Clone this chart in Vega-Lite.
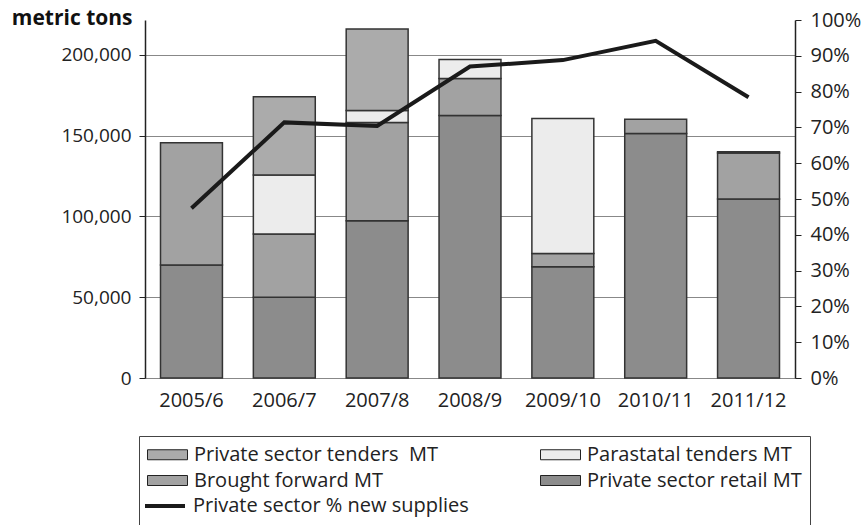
{
  "$schema": "https://vega.github.io/schema/vega-lite/v6.json",
  "autosize": {"type": "none"},
  "width": 650,
  "height": 358,
  "padding": {"left": 145, "top": 20, "right": 72, "bottom": 147},
  "background": "white",
  "config": {
    "font": "Open Sans",
    "view": {"stroke": null},
    "axis": {"labelFont": "Open Sans", "labelFontSize": 20, "labelColor": "#222", "titleFont": "Open Sans"}
  },
  "datasets": {
    "bars": [
      {"year": "2005/6", "series": "Private sector retail MT", "tons": 70000},
      {"year": "2005/6", "series": "Brought forward MT", "tons": 75600},
      {"year": "2006/7", "series": "Private sector retail MT", "tons": 50000},
      {"year": "2006/7", "series": "Brought forward MT", "tons": 39100},
      {"year": "2006/7", "series": "Parastatal tenders MT", "tons": 36500},
      {"year": "2006/7", "series": "Private sector tenders\u00a0 MT", "tons": 48500},
      {"year": "2007/8", "series": "Private sector retail MT", "tons": 97400},
      {"year": "2007/8", "series": "Brought forward MT", "tons": 60800},
      {"year": "2007/8", "series": "Parastatal tenders MT", "tons": 7400},
      {"year": "2007/8", "series": "Private sector tenders\u00a0 MT", "tons": 50400},
      {"year": "2008/9", "series": "Private sector retail MT", "tons": 162500},
      {"year": "2008/9", "series": "Brought forward MT", "tons": 22900},
      {"year": "2008/9", "series": "Parastatal tenders MT", "tons": 11800},
      {"year": "2009/10", "series": "Private sector retail MT", "tons": 68900},
      {"year": "2009/10", "series": "Brought forward MT", "tons": 8200},
      {"year": "2009/10", "series": "Parastatal tenders MT", "tons": 83600},
      {"year": "2010/11", "series": "Private sector retail MT", "tons": 151400},
      {"year": "2010/11", "series": "Brought forward MT", "tons": 8700},
      {"year": "2011/12", "series": "Private sector retail MT", "tons": 110800},
      {"year": "2011/12", "series": "Brought forward MT", "tons": 28500},
      {"year": "2011/12", "series": "Parastatal tenders MT", "tons": 700}
    ],
    "pct": [
      {"year": "2005/6", "series": "Private sector % new supplies", "share": 0.474},
      {"year": "2006/7", "series": "Private sector % new supplies", "share": 0.714},
      {"year": "2007/8", "series": "Private sector % new supplies", "share": 0.704},
      {"year": "2008/9", "series": "Private sector % new supplies", "share": 0.870},
      {"year": "2009/10", "series": "Private sector % new supplies", "share": 0.888},
      {"year": "2010/11", "series": "Private sector % new supplies", "share": 0.942},
      {"year": "2011/12", "series": "Private sector % new supplies", "share": 0.784}
    ]
  },
  "encoding": {
    "x": {
      "field": "year",
      "type": "nominal",
      "sort": null,
      "scale": {"paddingInner": 0.333, "paddingOuter": 0.167},
      "axis": {"title": null, "labelAngle": 0, "ticks": false, "domain": true, "domainColor": "#888", "domainWidth": 1, "labelPadding": 12}
    }
  },
  "layer": [
    {
      "data": {"name": "bars"},
      "transform": [
        {"calculate": "indexof(['Private sector retail MT','Brought forward MT','Parastatal tenders MT','Private sector tenders\u00a0 MT'], datum.series)", "as": "stackOrder"}
      ],
      "mark": {"type": "bar", "stroke": "#333", "strokeWidth": 1.5},
      "encoding": {
        "y": {
          "field": "tons",
          "type": "quantitative",
          "stack": "zero",
          "scale": {"domain": [0, 221600], "nice": false},
          "axis": {
            "title": "metric tons",
            "titleAngle": 0,
            "titleX": -13,
            "titleY": 4,
            "titleAlign": "right",
            "titleBaseline": "alphabetic",
            "titleFontSize": 21,
            "titleFontWeight": "bold",
            "titleColor": "#111",
            "values": [0, 50000, 100000, 150000, 200000],
            "format": ",.0f",
            "labelFontSize": 19,
            "grid": true,
            "gridColor": "#888",
            "gridWidth": 1,
            "domainColor": "#222",
            "domainWidth": 1.5,
            "tickColor": "#222",
            "tickSize": 6,
            "labelPadding": 8
          }
        },
        "order": {"field": "stackOrder", "type": "quantitative"},
        "color": {
          "field": "series",
          "type": "nominal",
          "scale": {
            "domain": ["Private sector tenders\u00a0 MT", "Parastatal tenders MT", "Brought forward MT", "Private sector retail MT"],
            "range": ["#ababab", "#ececec", "#a2a2a2", "#8c8c8c"]
          },
          "legend": {
            "title": " ",
            "titleOrient": "bottom",
            "titleFontSize": 30,
            "titlePadding": 5,
            "orient": "none",
            "legendX": -6,
            "legendY": 416,
            "direction": "horizontal",
            "columns": 2,
            "columnPadding": 100,
            "rowPadding": 5,
            "padding": 8,
            "strokeColor": "#444",
            "labelFont": "Open Sans",
            "labelFontSize": 20,
            "labelColor": "#222",
            "labelLimit": 500,
            "labelOffset": 16,
            "symbolOffset": 10,
            "symbolSize": 400,
            "symbolStrokeColor": "#222",
            "symbolStrokeWidth": 1,
            "encode": {
              "symbols": {
                "update": {
                  "shape": {"value": "M-2,-0.5H2V0.5H-2Z"},
                  "opacity": {"value": 1},
                  "fillOpacity": {"value": 1}
                }
              }
            }
          }
        }
      }
    },
    {
      "data": {"name": "pct"},
      "mark": {"type": "line", "strokeWidth": 4, "strokeJoin": "miter"},
      "encoding": {
        "y": {
          "field": "share",
          "type": "quantitative",
          "scale": {"domain": [0, 1], "nice": false},
          "axis": {
            "orient": "right",
            "title": null,
            "values": [0, 0.1, 0.2, 0.3, 0.4, 0.5, 0.6, 0.7, 0.8, 0.9, 1],
            "format": ".0%",
            "grid": false,
            "domainColor": "#222",
            "domainWidth": 1.5,
            "tickColor": "#222",
            "tickSize": 6,
            "labelPadding": 9
          }
        },
        "stroke": {
          "field": "series",
          "type": "nominal",
          "scale": {"range": ["#1a1a1a"]},
          "legend": {
            "title": null,
            "orient": "none",
            "legendX": -2,
            "legendY": 474,
            "padding": 0,
            "labelFont": "Open Sans",
            "labelFontSize": 20,
            "labelColor": "#222",
            "labelLimit": 500,
            "labelOffset": 16,
            "symbolOffset": 10,
            "symbolSize": 400,
            "symbolStrokeWidth": 4,
            "encode": {
              "symbols": {
                "update": {
                  "shape": {"value": "M-2,0H2"},
                  "opacity": {"value": 1}
                }
              }
            }
          }
        }
      }
    }
  ],
  "resolve": {"scale": {"y": "independent"}}
}
